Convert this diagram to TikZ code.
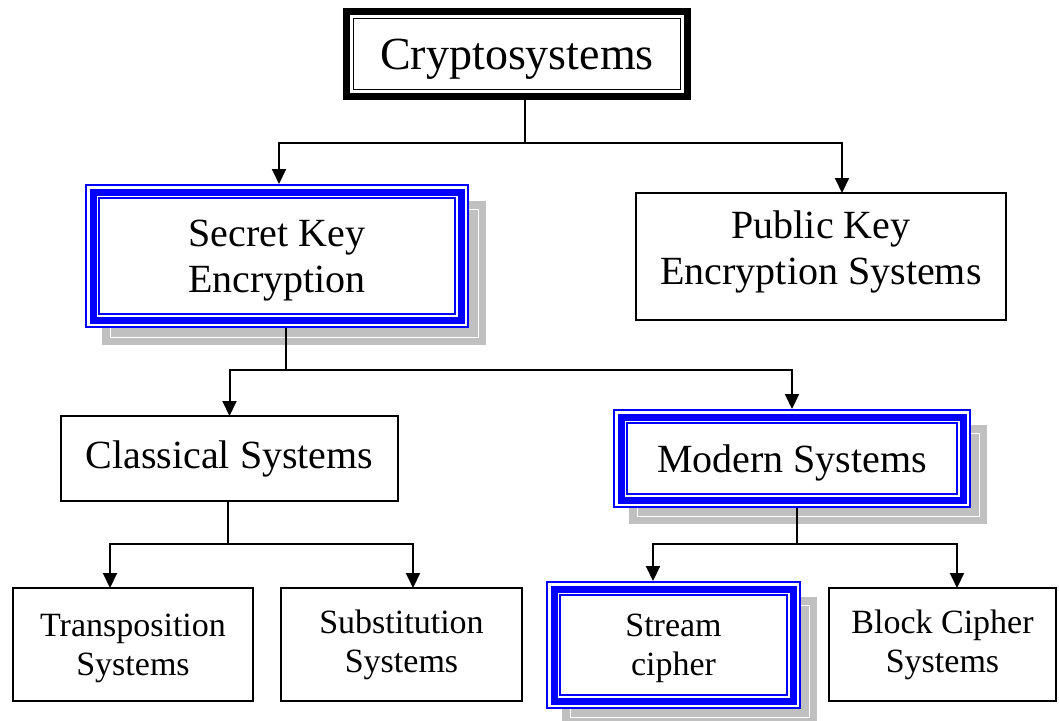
\documentclass[tikz,border=0pt]{standalone}
\usepackage{fontspec}
\setmainfont{Liberation Serif}
\usetikzlibrary{arrows.meta}
\pgfdeclarelayer{background}
\pgfsetlayers{background,main}
\definecolor{frameblue}{RGB}{0,0,255}
\definecolor{shadowgray}{RGB}{192,192,192}

% one rectangular outline, inset from the border of a node
\newcommand\frameat[4]{%
  \draw[#4, line width=#3pt] ([shift={(#2,#2)}]#1.north west) rectangle ([shift={(-#2,-#2)}]#1.south east);}
% thin / thick / thin blue frame
\newcommand\bluetriple[1]{%
  \frameat{#1}{0.8}{1.6}{frameblue}%
  \frameat{#1}{8}{7}{frameblue}%
  \frameat{#1}{14.2}{1.6}{frameblue}}
% grey drop shadow behind a node, with its light inner line
\newcommand\boxshadow[2]{%
  \begin{pgfonlayer}{background}
    \fill[shadowgray] ([shift={(#2,#2)}]#1.north west) rectangle ([shift={(#2,#2)}]#1.south east);
    \draw[white, line width=0.8pt] ([shift={(#2+8,#2+8)}]#1.north west) rectangle ([shift={(#2-8,#2-8)}]#1.south east);
  \end{pgfonlayer}}

\begin{document}
\begin{tikzpicture}[x=1pt,y=-1pt,
  box/.style={rectangle, inner sep=0pt, outer sep=0pt, align=center, fill=white},
  plainbox/.style={box, draw=black, line width=1.8pt},
  huge/.style={font=\fontsize{46}{53}\selectfont},
  big/.style={font=\fontsize{40}{46}\selectfont},
  small/.style={font=\fontsize{34}{39}\selectfont},
  conn/.style={line width=2pt, black},
  arr/.style={conn, -{Triangle[width=14pt,length=15pt]}},
]
\useasboundingbox (0,0) rectangle (1059,720);

% ---- boxes ----
\node[box, huge, text depth=0pt, minimum width=348pt, minimum height=92pt] (crypto) at (517,54) {Cryptosystems};
\frameat{crypto}{3.5}{7}{black}
\frameat{crypto}{10.5}{1.5}{black}

\node[box, big, text depth=0pt, minimum width=384pt, minimum height=144pt] (secret) at (277,256) {Secret Key\\Encryption};
\bluetriple{secret}
\boxshadow{secret}{17}

\node[plainbox, big, text depth=17pt, minimum width=370pt, minimum height=127pt] (public) at (821,256.5) {Public Key\\Encryption Systems};

\node[plainbox, big, minimum width=337pt, minimum height=85pt] (classical) at (229.5,458.5) {Classical Systems};

\node[box, big, text depth=0pt, minimum width=358pt, minimum height=99pt] (modern) at (792,458.5) {Modern Systems};
\bluetriple{modern}
\boxshadow{modern}{16}

\node[plainbox, small, text depth=0pt, minimum width=240pt, minimum height=113pt] (transp) at (133,644.5) {Transposition\\Systems};
\node[plainbox, small, minimum width=241pt, minimum height=113pt] (subst) at (401.5,644.5) {Substitution\\Systems};

\node[box, small, text depth=0pt, minimum width=255pt, minimum height=128pt] (stream) at (673.5,645) {Stream\\cipher};
\bluetriple{stream}
\boxshadow{stream}{16}

\node[plainbox, small, minimum width=227pt, minimum height=113pt] (block) at (942.5,644.5) {Block Cipher\\Systems};

% ---- connectors ----
\coordinate (j1) at (525,143);
\draw[conn] (crypto.south -| j1) -- (j1);
\draw[arr] (j1) -| ([xshift=2pt]secret.north);
\draw[arr] (j1) -| ([xshift=21pt]public.north);

\coordinate (j2) at (286,370);
\draw[conn] (secret.south -| j2) -- (j2);
\draw[arr] (j2) -| (classical.north);
\draw[arr] (j2) -| (modern.north);

\coordinate (j3) at (228,544);
\draw[conn] (classical.south -| j3) -- (j3);
\draw[arr] (j3) -| ([xshift=-23pt]transp.north);
\draw[arr] (j3) -| ([xshift=11.5pt]subst.north);

\coordinate (j4) at (797,544);
\draw[conn] (modern.south -| j4) -- (j4);
\draw[arr] (j4) -| ([xshift=-20.5pt]stream.north);
\draw[arr] (j4) -| ([xshift=14.5pt]block.north);
\end{tikzpicture}
\end{document}
